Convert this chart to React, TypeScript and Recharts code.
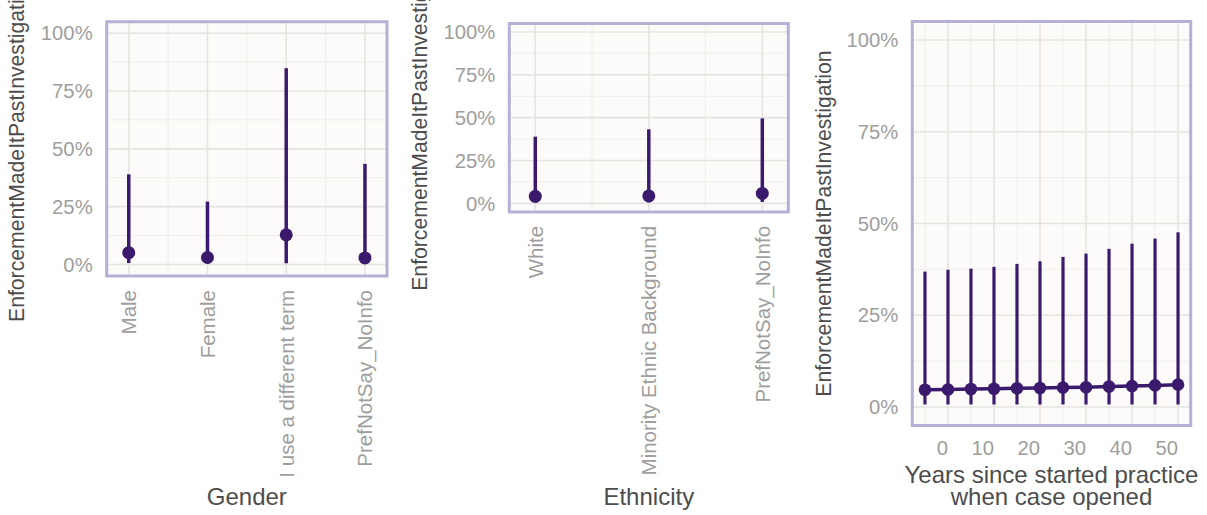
import React from 'react';
import { ComposedChart, Scatter, Line, XAxis, YAxis, CartesianGrid, ErrorBar, ReferenceArea } from 'recharts';

// ---- data ----
const genderCategories = ['Male', 'Female', 'I use a different term', 'PrefNotSay_NoInfo'];
const genderEstimate = [5.1, 3.0, 12.8, 2.8];
const genderLower = [0.6, 0.4, 0.5, 0.4];
const genderUpper = [39.0, 27.2, 84.9, 43.5];

const ethnicityCategories = ['White', 'Minority Ethnic Background', 'PrefNotSay_NoInfo'];
const ethnicityEstimate = [4.1, 4.3, 5.8];
const ethnicityLower = [0.5, 0.6, 0.8];
const ethnicityUpper = [38.9, 43.2, 49.6];

const yearsValues = [-5, 0, 5, 10, 15, 20, 25, 30, 35, 40, 45, 50];
const yearsEstimate = [4.7, 4.8, 4.9, 5.0, 5.1, 5.2, 5.3, 5.4, 5.6, 5.7, 5.9, 6.1];
const yearsLower = [0.7, 0.7, 0.7, 0.7, 0.7, 0.7, 0.7, 0.7, 0.7, 0.7, 0.7, 0.7];
const yearsUpper = [36.9, 37.4, 37.7, 38.2, 39.0, 39.7, 40.9, 41.8, 43.1, 44.5, 45.9, 47.6];

const yTicks = [0, 25, 50, 75, 100];
const yMinorTicks = [12.5, 37.5, 62.5, 87.5];
const yearTicks = [0, 10, 20, 30, 40, 50];
const yearMinorTicks = [-5, 5, 15, 25, 35, 45];

const Y_TITLE = 'EnforcementMadeItPastInvestigation';

// ---- styles ----
const PURPLE = '#3b1a6e';
const BORDER = '#b5b1d6';
const PANEL_BG = '#fcfbf9';
const GRID_MAJOR = '#e6e4e1';
const GRID_MINOR = '#efeeeb';
const TICK_COLOR = '#9e9e9e';
const TITLE_COLOR = '#4d4d4d';
const FONT = "'Liberation Sans', Arial, sans-serif";
const TICK_SIZE = 20.3;

const catRows = (est: number[], lo: number[], hi: number[]) =>
  est.map((e, i) => ({ idx: i, est: e, err: [e - lo[i], hi[i] - e] }));

const genderRows = catRows(genderEstimate, genderLower, genderUpper);
const ethnicityRows = catRows(ethnicityEstimate, ethnicityLower, ethnicityUpper);
const yearsRows = yearsValues.map((y, i) => ({
  years: y,
  est: yearsEstimate[i],
  err: [yearsEstimate[i] - yearsLower[i], yearsUpper[i] - yearsEstimate[i]],
}));

const pct = (v: number) => `${v}%`;

const YTitle = (props: any) => {
  const { viewBox, bx } = props;
  const cx = viewBox.x + bx;
  const cy = viewBox.y + viewBox.height / 2;
  return (
    <text x={cx} y={cy} dy="0.35em" transform={`rotate(-90 ${cx} ${cy})`} textAnchor="middle"
      fontSize={21.2} fill={TITLE_COLOR} fontFamily={FONT}>
      {Y_TITLE}
    </text>
  );
};

const XTitle = (props: any) => {
  const { viewBox, lines, offsets } = props;
  const cx = viewBox.x + viewBox.width / 2;
  return (
    <g>
      {lines.map((l: string, i: number) => (
        <text key={i} x={cx} y={viewBox.y + offsets[i]} textAnchor="middle" fontSize={24}
          fill={TITLE_COLOR} fontFamily={FONT}>
          {l}
        </text>
      ))}
    </g>
  );
};

const RotTick = (props: any) => {
  const { x, y, payload, cats } = props;
  return (
    <text x={x} y={y} dy="0.36em" transform={`rotate(-90 ${x} ${y})`} textAnchor="end"
      fontSize={20.5} fill={TICK_COLOR} fontFamily={FONT}>
      {cats[payload.value]}
    </text>
  );
};

const YearTick = (props: any) => {
  const { x, y, payload } = props;
  return (
    <text x={x} y={y} dy="0.72em" textAnchor="end" fontSize={TICK_SIZE} fill={TICK_COLOR} fontFamily={FONT}>
      {payload.value}
    </text>
  );
};

const Dot = (r: number) => (props: any) => <circle cx={props.cx} cy={props.cy} r={r} fill={PURPLE} />;

type CatPanelProps = {
  left: number; width: number; top: number; right: number; yAxisWidth: number; xAxisHeight: number;
  rows: any[]; cats: string[]; pad: number; xTitle: string; titleOffset: number; yTitleX: number;
};

const CategoryPanel = (p: CatPanelProps) => {
  const n = p.cats.length;
  const major = p.cats.map((_, i) => i);
  const minor = p.cats.slice(1).map((_, i) => i + 0.5);
  return (
    <div style={{ position: 'absolute', left: p.left, top: 0 }}>
      <ComposedChart width={p.width} height={515} data={p.rows}
        margin={{ top: p.top, right: p.right, bottom: 0, left: 0 }}>
        <CartesianGrid fill={PANEL_BG} stroke={GRID_MINOR} strokeWidth={1}
          horizontalValues={yMinorTicks} verticalValues={minor} />
        <CartesianGrid stroke={GRID_MAJOR} strokeWidth={1.6}
          horizontalValues={yTicks} verticalValues={major} />
        <XAxis dataKey="idx" type="number" domain={[-p.pad, n - 1 + p.pad]} allowDataOverflow
          ticks={major} interval={0} axisLine={false} tickLine={false} tickSize={0} tickMargin={14}
          height={p.xAxisHeight} tick={<RotTick cats={p.cats} />}
          label={<XTitle lines={[p.xTitle]} offsets={[p.titleOffset]} />} />
        <YAxis type="number" domain={[-5, 105]} allowDataOverflow ticks={yTicks} tickFormatter={pct}
          axisLine={false} tickLine={false} tickSize={0} tickMargin={14} width={p.yAxisWidth}
          tick={{ fontSize: TICK_SIZE, fill: TICK_COLOR, fontFamily: FONT }}
          label={<YTitle bx={p.yTitleX} />} />
        <ReferenceArea y1={-5} y2={105} fill="none" stroke={BORDER} strokeWidth={3} ifOverflow="visible" />
        <Scatter dataKey="est" isAnimationActive={false} shape={Dot(6.5)}>
          <ErrorBar dataKey="err" direction="y" width={0} stroke={PURPLE} strokeWidth={3.5} isAnimationActive={false} />
        </Scatter>
      </ComposedChart>
    </div>
  );
};

const YearsPanel = () => (
  <div style={{ position: 'absolute', left: 810, top: 0 }}>
    <ComposedChart width={397} height={515} data={yearsRows}
      margin={{ top: 21.6, right: 16.3, bottom: 0, left: 0 }}>
      <CartesianGrid fill={PANEL_BG} stroke={GRID_MINOR} strokeWidth={1}
        horizontalValues={yMinorTicks} verticalValues={yearMinorTicks} />
      <CartesianGrid stroke={GRID_MAJOR} strokeWidth={1.6}
        horizontalValues={yTicks} verticalValues={yearTicks} />
      <XAxis dataKey="years" type="number" domain={[-7.75, 52.75]} allowDataOverflow ticks={yearTicks}
        interval={0} axisLine={false} tickLine={false} tickSize={0} tickMargin={15} height={89.6}
        tick={<YearTick />}
        label={<XTitle lines={['Years since started practice', 'when case opened']} offsets={[57.9, 79.6]} />} />
      <YAxis type="number" domain={[-5, 105]} allowDataOverflow ticks={yTicks} tickFormatter={pct}
        axisLine={false} tickLine={false} tickSize={0} tickMargin={14} width={102.3}
        tick={{ fontSize: TICK_SIZE, fill: TICK_COLOR, fontFamily: FONT }}
        label={<YTitle bx={13.5} />} />
      <ReferenceArea y1={-5} y2={105} fill="none" stroke={BORDER} strokeWidth={3} ifOverflow="visible" />
      <Line dataKey="est" stroke={PURPLE} strokeWidth={3.5} isAnimationActive={false}
        dot={{ r: 6.3, fill: PURPLE, stroke: PURPLE, strokeWidth: 0 }} activeDot={false}>
        <ErrorBar dataKey="err" direction="y" width={0} stroke={PURPLE} strokeWidth={3.2} isAnimationActive={false} />
      </Line>
    </ComposedChart>
  </div>
);

export default function App() {
  return (
    <div style={{ position: 'absolute', left: 0, top: 0, width: 1207, height: 515, background: '#ffffff', fontFamily: FONT, overflow: 'hidden' }}>
      <CategoryPanel left={0} width={400} top={21.7} right={13} yAxisWidth={106.7} xAxisHeight={239}
        rows={genderRows} cats={genderCategories} pad={0.28} xTitle="Gender" titleOffset={229} yTitleX={16.5} />
      <CategoryPanel left={400} width={410} top={23.4} right={21.7} yAxisWidth={109.3} xAxisHeight={303.1}
        rows={ethnicityRows} cats={ethnicityCategories} pad={0.229} xTitle="Ethnicity" titleOffset={293.1} yTitleX={20} />
      <YearsPanel />
    </div>
  );
}
